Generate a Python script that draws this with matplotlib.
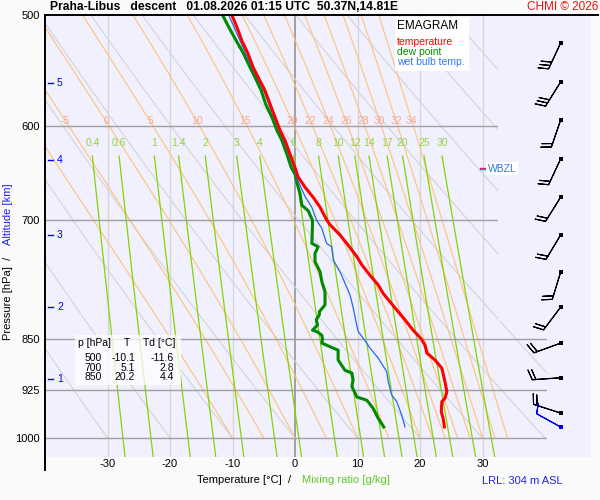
import numpy as np
import matplotlib
matplotlib.use("Agg")
import matplotlib.pyplot as plt
from matplotlib.patches import Polygon, Rectangle
from matplotlib.lines import Line2D

plt.rcParams['font.family'] = ['Liberation Sans', 'DejaVu Sans']

W, H = 600, 500

# sounding
temp_p = [500, 510, 521.5, 533, 544.7, 553.7, 566, 578.5, 591, 604, 614, 628, 642, 652, 663, 674,
          685, 700, 705, 717, 729, 743, 753, 766, 778, 789, 800, 811, 824, 838, 850, 859, 870,
          880, 892, 912, 927, 937, 942, 958, 968, 982]
temp_t = [-10.1, -9.3, -8.5, -7.5, -6.7, -5.9, -4.8, -4.0, -3.2, -2.4, -1.6, -0.8, 0.0, 0.5, 1.6, 2.9,
          4.0, 5.1, 5.6, 7.2, 8.5, 9.9, 10.7, 12.0, 13.3, 14.1, 15.2, 16.3, 17.6, 18.9, 20.2, 20.8, 21.1,
          22.4, 23.5, 24.0, 24.3, 24.0, 23.5, 23.4, 23.7, 23.9]

dew_p = [500, 510, 521.5, 533, 544.7, 553.7, 566, 578.5, 591, 604, 614, 628, 642, 649, 658, 670, 683,
         689, 700, 705, 727, 731, 739, 749, 761.5, 774, 787, 804, 813, 817, 824, 831, 838, 840, 845,
         850, 856, 861, 866, 880, 895, 899, 909, 919, 935, 940, 952.5, 968, 982]
dew_t = [-11.6, -10.6, -9.4, -8.2, -7.2, -6.4, -5.4, -4.7, -3.7, -2.9, -2.1, -1.3, -0.6, 0.0, 0.3, 0.8, 1.1,
         2.1, 2.8, 2.8, 2.7, 3.7, 3.2, 3.2, 4.0, 4.3, 4.8, 4.8, 3.9, 3.9, 3.4, 3.6, 2.8, 3.5, 4.3,
         4.4, 4.3, 5.6, 6.9, 6.9, 8.0, 9.1, 9.3, 9.1, 9.9, 11.5, 12.5, 13.3, 14.2]

wet_p = [500, 521.5, 545, 566, 591, 614, 628, 642, 656, 673, 685, 700, 709, 727, 731, 747, 761.5,
         776, 791, 808.5, 831, 840, 856, 863, 877.5, 897, 912, 932, 942, 963, 982]
wet_t = [-10.6, -8.8, -6.9, -5.0, -3.4, -1.8, -1.0, -0.2, 0.45, 1.6, 2.67, 3.47, 4.27, 5.07, 5.87, 6.13, 7.2,
         8.0, 8.8, 9.33, 9.87, 10.13, 11.47, 12.0, 13.33, 14.67, 14.93, 15.47, 16.27, 17.07, 17.6]

table_p = [500, 700, 850]
table_t = [-10.1, 5.1, 20.2]
table_td = [-11.6, 2.8, 4.4]

wbzl_p = 643

# diagram
p_ticks = [500, 600, 700, 850, 925, 1000]
t_ticks = [-30, -20, -10, 0, 10, 20, 30]
theta_dry = [-40, -30, -20, -10, 0, 10, 20, 30, 40, 50, 60, 70, 80, 90]
theta_w = [-10, -5, 0, 5, 10, 15, 20, 22, 24, 26, 28, 30, 32, 34]
mix_ratio = [0.4, 0.6, 1, 1.4, 2, 3, 4, 6, 8, 10, 12, 14, 17, 20, 25, 30]
mix_labels = ['0.4', '0.6', '1', '1.4', '2', '3', '4', '6', '8', '10', '12', '14', '17', '20', '25', '30']

alt_km = [1, 2, 3, 4, 5]
alt_p = [908, 807, 717, 634, 559]

# wind
wind_p = [523.5, 558, 594, 633, 674, 717, 762, 807, 856, 906, 960]
wind_dir = [205, 212, 199, 205, 212, 211, 197, 217, 250, 266, 288]
wind_spd = [30, 30, 20, 20, 20, 20, 20, 20, 20, 20, 20]
sfc_p, sfc_dir, sfc_spd = 982, 299, 10


def es(tc):
    return 6.112 * np.exp(17.67 * tc / (tc + 243.5))


def pseudo_adiabat(tw, p):
    Rd, cp, Lv, eps = 287.04, 1005.7, 2.501e6, 0.622

    def f(T, pp):
        e = es(T - 273.15)
        rs = eps * e / (pp - e)
        return (Rd * T + Lv * rs) / (pp * (cp + Lv * Lv * rs * eps / (Rd * T * T)))

    T = np.empty_like(p)
    T[0] = tw + 273.15
    for i in range(len(p) - 1):
        h = p[i + 1] - p[i]
        k1 = f(T[i], p[i])
        k2 = f(T[i] + h * k1 / 2, p[i] + h / 2)
        k3 = f(T[i] + h * k2 / 2, p[i] + h / 2)
        k4 = f(T[i] + h * k3, p[i] + h)
        T[i + 1] = T[i] + h * (k1 + 2 * k2 + 2 * k3 + k4) / 6
    return T - 273.15


def mix_dewpoint(w, p):
    x = np.log(w * p / (622 + w) / 6.112)
    return 243.5 * x / (17.67 - x)


def fx(px):
    return px / W


def fy(py):
    return 1 - py / H


fig = plt.figure(figsize=(6, 5), dpi=100, facecolor='#fafafa')
ax = fig.add_axes([fx(45), fy(457), (591 - 45) / W, (457 - 15) / H])
ax.set_facecolor('#f0f0ff')
ax.set_yscale('log')
ax.set_xlim(-40, 47.36)
ax.set_ylim(1031.6, 500)
for s in ax.spines.values():
    s.set_visible(False)

clip = Polygon([(-41, 480), (32.4, 480), (32.4, 825), (40.3, 825), (40.3, 1040), (-41, 1040)],
               closed=True, transform=ax.transData)

# isotherms
for t in t_ticks:
    ax.axvline(t, color='#8c8c8c' if t == 0 else '#d6d6d6', lw=1.1 if t == 0 else 0.9, zorder=1)

# dry adiabats
pp = np.linspace(500, 1000, 120)
for th in theta_dry:
    ln, = ax.plot((th + 273.15) * (pp / 1000) ** 0.2857 - 273.15, pp, color='#d4d4d4', lw=0.8, zorder=1)
    ln.set_clip_path(clip)

# saturated adiabats
pm = np.arange(1000, 499, -2.0)
for tw in theta_w:
    tm = pseudo_adiabat(tw, pm)
    ln, = ax.plot(tm, pm, color='#ffc27a', lw=0.8, zorder=1)
    ln.set_clip_path(clip)
    if tw in theta_w[1:]:
        tl = np.interp(595, pm[::-1], tm[::-1])
        ax.text(tl, 595, str(tw), color='#f9a88e', fontsize=7.5, ha='center', va='center', zorder=2)

# mixing ratio lines
pw = np.linspace(630, 1031.6, 60)
for w, lab in zip(mix_ratio, mix_labels):
    ln, = ax.plot(mix_dewpoint(w, pw), pw, color='#84d400', lw=0.9, zorder=1)
    ln.set_clip_path(clip)
    ax.text(mix_dewpoint(w, 630), 617, lab, color='#96d23c', fontsize=7.5, ha='center', va='center', zorder=2)

# isobars
for p in p_ticks[1:]:
    ln, = ax.plot([-40, 47], [p, p], color='#a0a0a0', lw=1.0, zorder=1.5)
    ln.set_clip_path(clip)

# profiles
ax.plot(dew_t, dew_p, color='#008a00', lw=2.2, zorder=3)
ax.plot(wet_t, wet_p, color='#2468ee', lw=0.9, zorder=3.2)
ax.plot(temp_t, temp_p, color='#ff0000', lw=2.2, zorder=3.4)

# wind barbs
d = np.radians(wind_dir)
u = -np.array(wind_spd) * np.sin(d)
v = -np.array(wind_spd) * np.cos(d)
bx = [42.5] * len(wind_p)
barb_sizes = dict(height=0.35, spacing=0.13, width=0.25)
ax.barbs(bx, wind_p, u, v, length=6.4, color='black', linewidth=0.8,
         sizes=barb_sizes, clip_on=False, zorder=4)
ax.scatter(bx, wind_p, marker='s', s=5, c='black', linewidths=0, zorder=5)
ds = np.radians(sfc_dir)
ax.barbs([42.5], [sfc_p], [-sfc_spd * np.sin(ds)], [-sfc_spd * np.cos(ds)], length=6.4, color='#0000ee',
         linewidth=0.8, sizes=barb_sizes, clip_on=False, zorder=4)
ax.scatter([42.5], [sfc_p], marker='s', s=5, c='#0000ee', linewidths=0, zorder=5)

# WBZL marker
ax.plot([29.6, 30.6], [wbzl_p / 1.0016, wbzl_p / 1.0016], color='#ff2020', lw=1, zorder=4)
ax.plot([29.6, 30.6], [wbzl_p * 1.0016, wbzl_p * 1.0016], color='#3377dd', lw=1, zorder=4)
ax.text(30.8, wbzl_p, 'WBZL', color='#3377dd', fontsize=7.5, ha='left', va='center', zorder=4,
        bbox=dict(facecolor='white', edgecolor='none', pad=1.2))

# altitude ticks
ya = ax.get_yaxis_transform()
for km, p in zip(alt_km, alt_p):
    ax.plot([0.005, 0.015], [p, p], color='#0000ff', lw=1, transform=ya, clip_on=False, zorder=4)
    ax.text(0.022, p, str(km), color='#0000ff', fontsize=7.5, ha='left', va='center', transform=ya)

# ticks
ax.set_xticks(t_ticks)
ax.set_xticklabels([str(t) for t in t_ticks])
ax.set_yticks(p_ticks)
ax.set_yticklabels([str(p) for p in p_ticks])
ax.yaxis.set_minor_locator(matplotlib.ticker.NullLocator())
ax.tick_params(axis='both', length=0, labelsize=8)
ax.tick_params(axis='x', pad=1.5)
ax.tick_params(axis='y', pad=3.6)

# frame lines
fig.add_artist(Line2D([fx(45), fx(598)], [fy(15), fy(15)], color='black', lw=1.4))
fig.add_artist(Line2D([fx(45), fx(45)], [fy(15), fy(470)], color='black', lw=1.4))

# titles
fig.text(fx(50), fy(7), 'Praha-Libus   descent   01.08.2026 01:15 UTC  50.37N,14.81E',
         fontsize=8.7, fontweight='bold', ha='left', va='center')
fig.text(fx(598), fy(7), 'CHMI \u00a9 2026', fontsize=8.5, color='#ee1111', ha='right', va='center')

fig.text(fx(291), fy(480), 'Temperature [\u00b0C]  /', fontsize=8, ha='right', va='center')
fig.text(fx(302), fy(480), 'Mixing ratio [g/kg]', fontsize=8, color='#5fc72a', ha='left', va='center')
fig.text(fx(482), fy(481), 'LRL: 304 m ASL', fontsize=8, color='#2222ee', ha='left', va='center')

fig.text(fx(8), fy(340), 'Pressure [hPa]  /', fontsize=8, rotation=90, ha='center', va='bottom')
fig.text(fx(8), fy(183), 'Altitude [km]', fontsize=8, rotation=90, ha='center', va='top', color='#2222ee')

# legend box
fig.add_artist(Rectangle((fx(395), fy(71)), 74 / W, 54 / H, transform=fig.transFigure,
                         facecolor='white', edgecolor='none', zorder=5))
fig.text(fx(397), fy(26), 'EMAGRAM', fontsize=8.5, ha='left', va='center', zorder=6)
fig.text(fx(397), fy(42), 'temperature', fontsize=7.5, color='#ff0000', ha='left', va='center', zorder=6)
fig.text(fx(397), fy(52), 'dew point', fontsize=7.5, color='#009000', ha='left', va='center', zorder=6)
fig.text(fx(397), fy(62), 'wet bulb temp.', fontsize=7.5, color='#3377ee', ha='left', va='center', zorder=6)

# table box
fig.add_artist(Rectangle((fx(75), fy(385)), 106 / W, 50 / H, transform=fig.transFigure,
                         facecolor='white', alpha=0.75, edgecolor='none', zorder=5))
fig.text(fx(78), fy(343), 'p [hPa]', fontsize=7.5, ha='left', va='center', zorder=6)
fig.text(fx(127), fy(343), 'T', fontsize=7.5, ha='center', va='center', zorder=6)
fig.text(fx(143), fy(343), 'Td [\u00b0C]', fontsize=7.5, ha='left', va='center', zorder=6)
for i, (p, t, td) in enumerate(zip(table_p, table_t, table_td)):
    yy = 358 + i * 9.7
    fig.text(fx(102), fy(yy), f'{p}', fontsize=7.5, ha='right', va='center', zorder=6)
    fig.text(fx(135), fy(yy), f'{t:.1f}', fontsize=7.5, ha='right', va='center', zorder=6)
    fig.text(fx(174), fy(yy), f'{td:.1f}', fontsize=7.5, ha='right', va='center', zorder=6)

fig.savefig('out.png', dpi=100, facecolor=fig.get_facecolor())
